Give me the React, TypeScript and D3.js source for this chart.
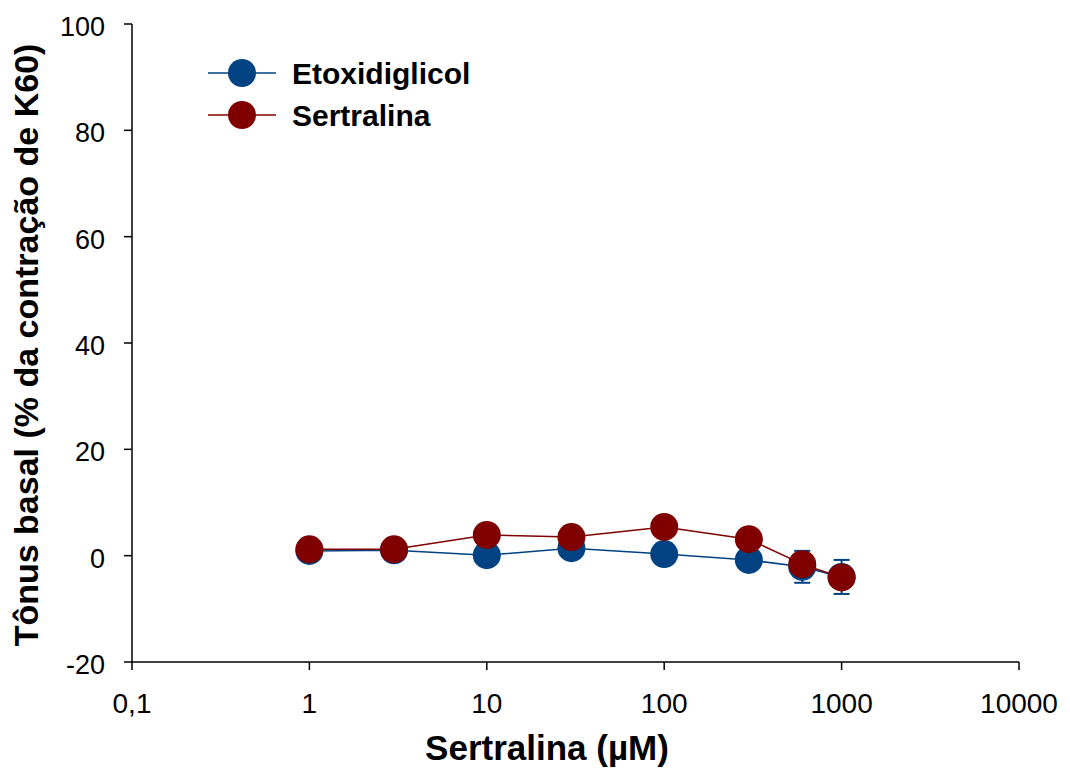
import React from "react";
import * as d3 from "d3";

const concentrations = [1, 3, 10, 30, 100, 300, 600, 1000];
const etoxidiglicol = [0.9, 1.0, 0.1, 1.4, 0.3, -0.8, -2.1, -4.0];
const etoxidiglicolErr = [0.3, 0.3, 0.4, 0.5, 0.5, 0.6, 3.0, 3.2];
const sertralina = [1.2, 1.2, 3.9, 3.5, 5.4, 3.1, -1.6, -4.1];
const sertralinaErr = [0.3, 0.3, 0.5, 0.5, 0.6, 0.5, 0.8, 0.8];
const xTicks = [0.1, 1, 10, 100, 1000, 10000];
const xTickLabels = ["0,1", "1", "10", "100", "1000", "10000"];
const yTicks = [-20, 0, 20, 40, 60, 80, 100];

const series = [
  { name: "Etoxidiglicol", values: etoxidiglicol, err: etoxidiglicolErr, color: "#004282" },
  { name: "Sertralina", values: sertralina, err: sertralinaErr, color: "#800000" },
];

export default function App() {
  const W = 1070, H = 769;
  const x0 = 132, x1 = 1019, y0 = 24, y1 = 662;
  const x = d3.scaleLog().domain([0.1, 10000]).range([x0, x1]);
  const y = d3.scaleLinear().domain([-20, 100]).range([y1, y0]);
  const line = d3.line<number>().x((_, i) => x(concentrations[i])).y((v) => y(v));
  const font = "Arial, 'Liberation Sans', sans-serif";
  const r = 14;
  return (
    <svg width={W} height={H} style={{ position: "absolute", left: 0, top: 0 }} fontFamily={font}>
      <rect width={W} height={H} fill="#fff" />
      {/* axes */}
      <line x1={x0} x2={x0} y1={y0} y2={y1} stroke="#000" strokeWidth={1.5} />
      <line x1={x0} x2={x1} y1={y1} y2={y1} stroke="#000" strokeWidth={1.5} />
      {yTicks.map((t) => (
        <g key={t}>
          <line x1={x0 - 8} x2={x0} y1={y(t)} y2={y(t)} stroke="#000" strokeWidth={1.5} />
          <text x={x0 - 27} y={y(t)} dy="0.45em" textAnchor="end" fontSize={27}>{t}</text>
        </g>
      ))}
      {xTicks.map((t, i) => (
        <g key={t}>
          <line x1={x(t)} x2={x(t)} y1={y1} y2={y1 + 8} stroke="#000" strokeWidth={1.5} />
          <text x={x(t)} y={713} textAnchor="middle" fontSize={28}>{xTickLabels[i]}</text>
        </g>
      ))}
      <text x={547} y={760} textAnchor="middle" fontSize={35} fontWeight="bold">Sertralina (µM)</text>
      <text transform={`translate(38, 345) rotate(-90)`} textAnchor="middle" fontSize={34} fontWeight="bold">
        Tônus basal (% da contração de K60)
      </text>
      {/* data */}
      {series.map((s) => (
        <g key={s.name}>
          <path d={line(s.values) || ""} fill="none" stroke={s.color} strokeWidth={1.5} />
          {s.values.map((v, i) => {
            const cx = x(concentrations[i]);
            return (
              <g key={i}>
                <line x1={cx} x2={cx} y1={y(v + s.err[i])} y2={y(v - s.err[i])} stroke={s.color} strokeWidth={2} />
                <line x1={cx - 8} x2={cx + 8} y1={y(v + s.err[i])} y2={y(v + s.err[i])} stroke={s.color} strokeWidth={2} />
                <line x1={cx - 8} x2={cx + 8} y1={y(v - s.err[i])} y2={y(v - s.err[i])} stroke={s.color} strokeWidth={2} />
                <circle cx={cx} cy={y(v)} r={r} fill={s.color} />
              </g>
            );
          })}
        </g>
      ))}
      {/* legend */}
      {series.map((s, i) => {
        const ly = 73 + i * 42;
        return (
          <g key={s.name}>
            <line x1={208} x2={276} y1={ly} y2={ly} stroke={s.color} strokeWidth={1.5} />
            <circle cx={242} cy={ly} r={r} fill={s.color} />
            <text x={292} y={ly} dy="0.36em" fontSize={30} fontWeight="bold">{s.name}</text>
          </g>
        );
      })}
    </svg>
  );
}
